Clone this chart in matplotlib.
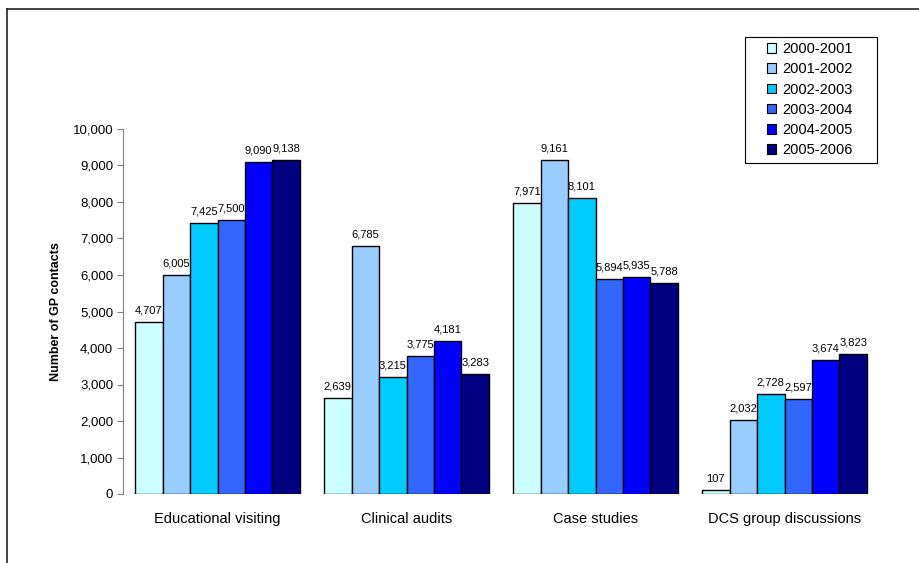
import numpy as np
import matplotlib.pyplot as plt
from matplotlib.lines import Line2D
from matplotlib.patches import Rectangle

plt.rcParams['font.family'] = ['Liberation Sans', 'DejaVu Sans']

categorias = ["Educational visiting", "Clinical audits", "Case studies", "DCS group discussions"]
periodos = ["2000-2001", "2001-2002", "2002-2003", "2003-2004", "2004-2005", "2005-2006"]
colores = ["#CCFFFF", "#99CCFF", "#00CCFF", "#3366FF", "#0000FF", "#000080"]

v_2000 = [4707, 2639, 7971, 107]
v_2001 = [6005, 6785, 9161, 2032]
v_2002 = [7425, 3215, 8101, 2728]
v_2003 = [7500, 3775, 5894, 2597]
v_2004 = [9090, 4181, 5935, 3674]
v_2005 = [9138, 3283, 5788, 3823]
series = [v_2000, v_2001, v_2002, v_2003, v_2004, v_2005]

W, H = 919, 563
fig = plt.figure(figsize=(W / 100, H / 100), dpi=100)
ax = fig.add_axes([123 / W, 69 / H, 756 / W, 365 / H])

x = np.arange(len(categorias))
ancho = 0.873 / len(series)

for i, (vals, per, col) in enumerate(zip(series, periodos, colores)):
    pos = x - 0.873 / 2 + ancho * (i + 0.5)
    ax.bar(pos, vals, width=ancho, color=col, edgecolor="black", linewidth=1.0, label=per)
    for p, v in zip(pos, vals):
        ax.text(p, v + 180, f"{v:,}", ha="center", va="bottom", fontsize=8)

ax.set_xlim(-0.5, len(categorias) - 0.5)
ax.set_ylim(0, 10000)
ax.set_yticks(np.arange(0, 10001, 1000))
ax.yaxis.set_major_formatter(plt.FuncFormatter(lambda v, _: f"{int(v):,}"))
ax.set_xticks(x)
ax.set_xticklabels(categorias, fontsize=10.5)
ax.tick_params(axis="x", length=0, pad=13)
ax.tick_params(axis="y", labelsize=9.5, length=4, color="#808080", direction="out", pad=3)

for lado in ["top", "right", "bottom"]:
    ax.spines[lado].set_visible(False)
ax.spines["left"].set_color("#808080")

ax.set_ylabel("Number of GP contacts", fontsize=9, fontweight="bold", labelpad=8)

# leyenda sin marco, el recuadro se dibuja aparte
leg = ax.legend(loc="upper left", bbox_to_anchor=(767 / W, 1 - 42 / H),
                bbox_transform=fig.transFigure, fontsize=10.5, frameon=False,
                handlelength=0.62, handleheight=0.62, handletextpad=0.4,
                labelspacing=0.43, borderpad=0, borderaxespad=0)
for h in leg.legend_handles:
    h.set_linewidth(0.8)
fig.add_artist(Rectangle((745 / W, 1 - 163 / H), 132 / W, 126 / H,
                         transform=fig.transFigure, fill=False,
                         edgecolor="black", linewidth=0.8))

# marco exterior del gráfico
fig.add_artist(Line2D([7 / W, 1], [1 - 9 / H, 1 - 9 / H], color="#222222", lw=1.2))
fig.add_artist(Line2D([7 / W, 7 / W], [0, 1 - 9 / H], color="#222222", lw=1.2))

fig.savefig("out.png", dpi=100)
